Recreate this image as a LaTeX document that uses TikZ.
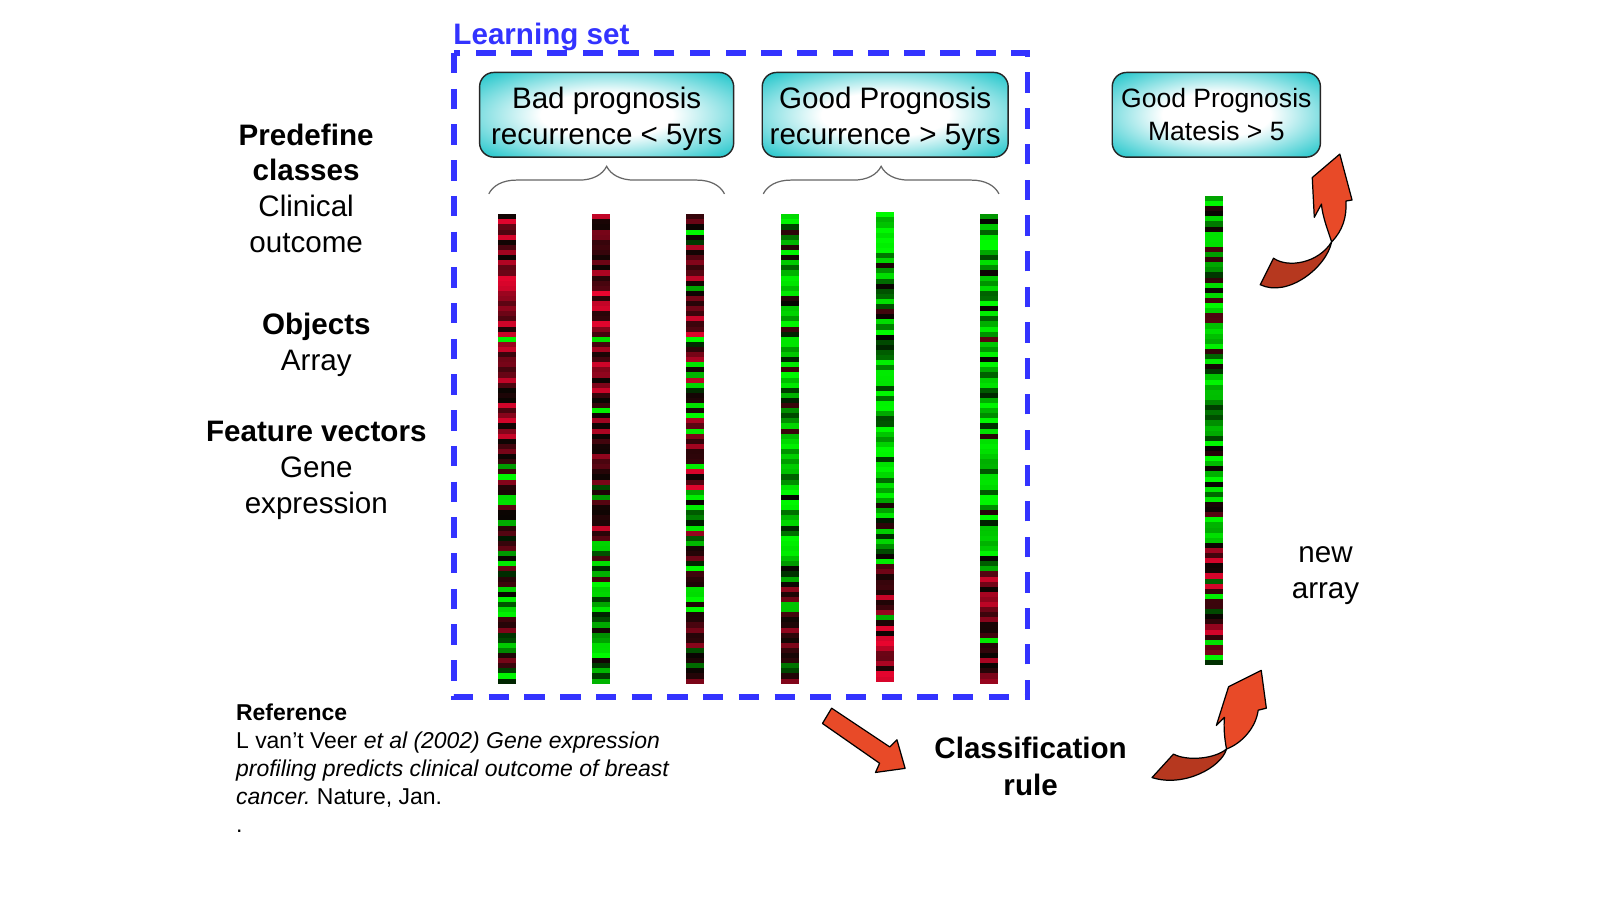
\documentclass[tikz,border=0pt]{standalone}
\usepackage{fontspec}
\setmainfont{Liberation Sans}
\usetikzlibrary{decorations.pathreplacing}

\definecolor{learnblue}{RGB}{51,51,255}
\definecolor{boxcyan}{RGB}{38,199,204}
\definecolor{arrowred}{RGB}{232,74,40}
\definecolor{arrowdark}{RGB}{182,56,31}

\pgfdeclareradialshading{boxglow}{\pgfpoint{0bp}{0bp}}{color(0bp)=(white); color(13bp)=(white); color(34bp)=(boxcyan); color(50bp)=(boxcyan)}

\tikzset{
  prognosis/.style={draw=black!85, line width=0.7pt, rounded corners=7pt,
    shade, shading=boxglow, align=center, inner sep=0pt,
    minimum height=41.5pt, font=\fontsize{14.5}{17.5}\selectfont},
  sidetext/.style={align=center, inner sep=0pt, font=\fontsize{14.5}{17.5}\selectfont},
  fatarrow/.style={draw=black, line width=0.6pt, line join=round}
}

% one array strip: x, top, switch band, p(green) above, p(green) below, seed
\newcommand{\genestrip}[6]{%
  \pgfmathsetseed{#6}
  \fill[black] (#1-9,#2) rectangle (#1+9,#2+460);
  \foreach \i in {0,...,91}{
    \pgfmathsetmacro\pg{\i<#3 ? #4 : #5}
    \pgfmathsetmacro\u{rnd}
    \pgfmathtruncatemacro\isg{rnd<\pg ? 1 : 0}
    \ifnum\isg=1
      \pgfmathsetmacro\gv{0.1+0.88*(1-(1-\u)*(1-\u))}
      \definecolor{bandc}{rgb}{0,\gv,0}
    \else
      \pgfmathsetmacro\rv{(0.04+0.9*\u*(0.3+0.7*\u))*min(1,1.2-\pg)}
      \pgfmathsetmacro\bv{0.2*\rv}
      \definecolor{bandc}{rgb}{\rv,0.02,\bv}
    \fi
    \fill[bandc] (#1-9,#2+\i*5) rectangle (#1+9,#2+\i*5+5);
  }
}

\begin{document}
\begin{tikzpicture}[x=0.5pt, y=-0.5pt]
\fill[white] (0,0) rectangle (1568,882);
\useasboundingbox (0,0) rectangle (1568,882);
% learning set frame
    \node[anchor=base west, inner sep=0pt, text=learnblue, font=\bfseries\fontsize{14.5}{17.5}\selectfont] (learn) at (444,44) {Learning set};
    \draw[learnblue, line width=2.8pt, dash pattern=on 10pt off 7.5pt] (445,52) rectangle (1007,683);
% class boxes
    \node[prognosis, minimum width=124.5pt] (bad) at (594.5,112.5) {\rule{0pt}{14.5pt}Bad prognosis\\recurrence < 5yrs};
    \node[prognosis, minimum width=120.5pt] (good) at (867.5,112.5) {\rule{0pt}{14.5pt}Good Prognosis\\recurrence > 5yrs};
    \node[prognosis, minimum width=102pt, font=\fontsize{13}{16}\selectfont] (newclass) at (1192,112.5) {Good Prognosis\\Matesis > 5};
% braces
    \draw[black!60, line width=0.6pt, decorate, decoration={brace, amplitude=13.5pt}] (479,190) -- (710,190);
    \draw[black!60, line width=0.6pt, decorate, decoration={brace, amplitude=13.5pt}] (748,190) -- (979,190);
% arrays
    \genestrip{497}{210}{55}{0.15}{0.6}{3}
    \genestrip{589}{210}{64}{0.08}{0.8}{7}
    \genestrip{681}{210}{55}{0.22}{0.55}{12}
    \genestrip{774}{210}{72}{0.85}{0.25}{21}
    \genestrip{867}{208}{69}{0.92}{0.05}{33}
    \genestrip{969}{210}{70}{0.8}{0.3}{45}
    \genestrip{1190}{192}{68}{0.82}{0.25}{58}
% side texts
    \node[sidetext] (classes) at (300,184.5) {\textbf{Predefine}\\\textbf{classes}\\Clinical\\outcome};
    \node[sidetext] (objects) at (310,338) {\textbf{Objects}\\Array};
    \node[sidetext] (features) at (310,461) {\textbf{Feature vectors}\\Gene\\expression};
    \node[sidetext, font=\bfseries\fontsize{14.5}{18}\selectfont] (rule) at (1010,751) {Classification\\rule};
    \node[sidetext, font=\fontsize{14.5}{18}\selectfont] (newarray) at (1299,564) {new\\array};
    \node[anchor=north west, align=left, inner sep=0pt, font=\fontsize{11.25}{13.75}\selectfont] (ref) at (231,689)
      {\textbf{Reference}\\L van’t Veer \textit{et al (2002) Gene expression}\\\textit{profiling predicts clinical outcome of breast}\\\textit{cancer.}\ Nature, Jan.\\.};
% arrows
    \filldraw[fatarrow, fill=arrowred] (815,694) -- (872,732) -- (879,725) -- (887,753) -- (858,757) -- (862,748) -- (806,709) -- cycle;
    \filldraw[fatarrow, fill=arrowdark] (1129,762) -- (1150,739) .. controls (1163,746) and (1190,744) .. (1202,734)
      .. controls (1197,752) and (1160,772) .. (1129,762) -- cycle;
    \filldraw[fatarrow, fill=arrowred] (1202,734) .. controls (1200,724) and (1199,712) .. (1200,703) -- (1192,711) -- (1204,673)
      -- (1236,657) -- (1241,694) -- (1233,696) .. controls (1231,712) and (1218,728) .. (1202,734) -- cycle;
    \filldraw[fatarrow, fill=arrowdark] (1235,279) -- (1248,253) .. controls (1262,263) and (1292,258) .. (1305,237)
      .. controls (1300,262) and (1262,292) .. (1235,279) -- cycle;
    \filldraw[fatarrow, fill=arrowred] (1305,237) .. controls (1301,225) and (1296,212) .. (1295,200) -- (1288,213) -- (1286,174)
      -- (1313,151) -- (1325,196) -- (1319,197) .. controls (1320,212) and (1316,226) .. (1305,237) -- cycle;
\end{tikzpicture}
\end{document}
